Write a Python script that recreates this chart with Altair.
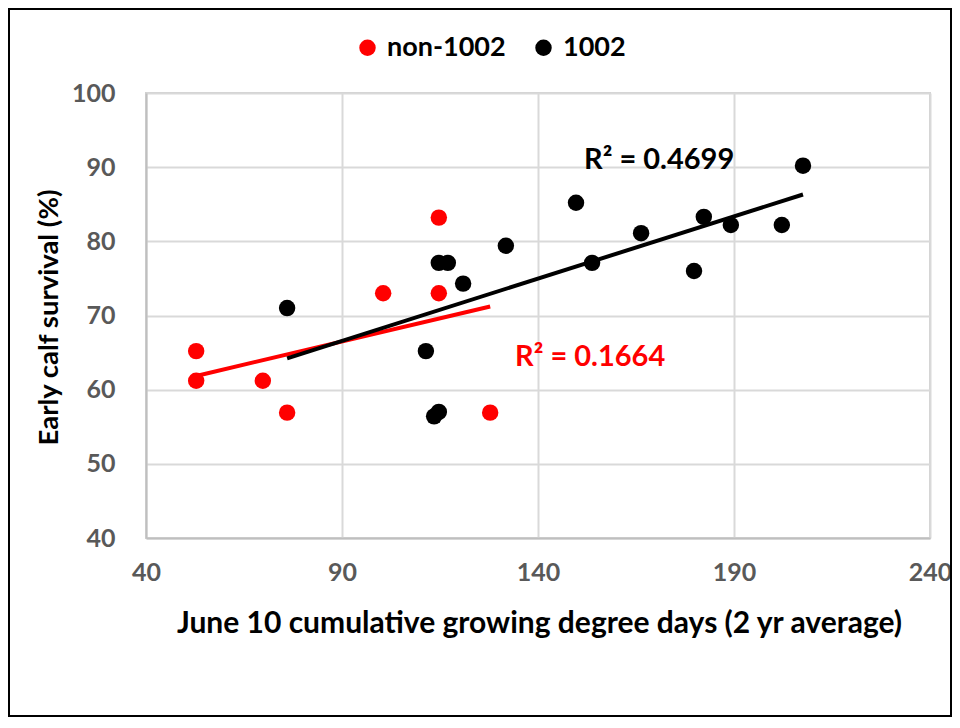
import altair as alt
import pandas as pd

# Data
non_x = [52.8, 52.8, 69.8, 76.0, 100.5, 114.7, 114.7, 127.8]
non_y = [65.2, 61.2, 61.2, 56.9, 73.0, 83.2, 73.0, 56.9]
g_x = [76.0, 111.4, 113.5, 114.7, 114.7, 117.0, 120.9, 131.8, 149.7, 153.8, 166.3, 179.8, 182.3, 189.2, 202.2, 207.6]
g_y = [71.0, 65.2, 56.4, 57.0, 77.1, 77.1, 74.3, 79.4, 85.2, 77.1, 81.1, 76.0, 83.3, 82.2, 82.2, 90.2]
series_names = ["non-1002", "1002"]
series_colors = ["#ff0000", "#000000"]
r2_labels = ["R² = 0.1664", "R² = 0.4699"]
r2_x = [153.3, 170.9]
r2_y = [64.4, 91.0]
x_ticks = [40, 90, 140, 190, 240]
y_ticks = [40, 50, 60, 70, 80, 90, 100]

FONT = "Lato"

df = pd.DataFrame(
    {"x": non_x + g_x,
     "y": non_y + g_y,
     "series": ["non-1002"] * len(non_x) + ["1002"] * len(g_x)}
)
ann = pd.DataFrame({"label": r2_labels, "x": r2_x, "y": r2_y, "series": series_names})

color_scale = alt.Scale(domain=series_names, range=series_colors)
xs = alt.Scale(domain=[40, 240], nice=False)
ys = alt.Scale(domain=[40, 100], nice=False)

legend = alt.Legend(
    title=None, orient="none", direction="horizontal", legendX=208, legendY=-59,
    symbolType="circle", symbolSize=270, symbolStrokeWidth=0, symbolOpacity=1,
    labelFontSize=27, labelFont=FONT, labelFontWeight="bold", labelColor="#000000",
    labelOffset=6, columnPadding=24, padding=0)

axis_common = dict(
    tickSize=0, domainColor="#bfbfbf", domainWidth=2,
    gridColor="#d9d9d9", gridWidth=2, labelFlush=False,
    labelFont=FONT, labelFontSize=25, labelFontWeight="bold", labelColor="#595959",
    titleFont=FONT, titleFontWeight="bold", titleColor="#000000",
)

xenc = alt.X("x:Q", scale=xs, axis=alt.Axis(
    values=x_ticks, title="June 10 cumulative growing degree days (2 yr average)",
    titleX=393, titleY=85, titleBaseline="middle", titleAlign="center", titleFontSize=30,
    labelPadding=22, **axis_common))
yenc = alt.Y("y:Q", scale=ys, axis=alt.Axis(
    values=y_ticks, title="Early calf survival (%)",
    titleX=-97, titleY=224, titleAngle=270, titleBaseline="middle", titleAlign="center",
    titleFontSize=27.5, labelPadding=31, **axis_common))
cenc = alt.Color("series:N", scale=color_scale, legend=legend)

base = alt.Chart(df)

points = base.mark_circle(size=270, opacity=1).encode(x=xenc, y=yenc, color=cenc)

lines = base.transform_regression("x", "y", groupby=["series"]).mark_line(strokeWidth=4).encode(
    x=xenc, y=yenc, color=cenc)

labels = alt.Chart(ann).mark_text(fontSize=29, font=FONT, fontWeight="bold").encode(
    x=xenc, y=yenc, text="label:N", color=cenc)

frame = alt.Chart(df).mark_rect(fill=None, stroke="#000000", strokeWidth=2, clip=False).encode(
    x=alt.value(-137), x2=alt.value(805), y=alt.value(-84), y2=alt.value(623)
)

chart = alt.layer(frame, lines, points, labels).properties(
    width=784, height=445,
    autosize=alt.AutoSizeParams(type="none"),
    padding={"left": 138, "top": 85, "right": 22, "bottom": 180},
    background="#ffffff",
).configure_view(
    stroke="#d0d0d0", strokeWidth=2
)

chart.save("out.html", embed_options={"renderer": "svg", "actions": False})
